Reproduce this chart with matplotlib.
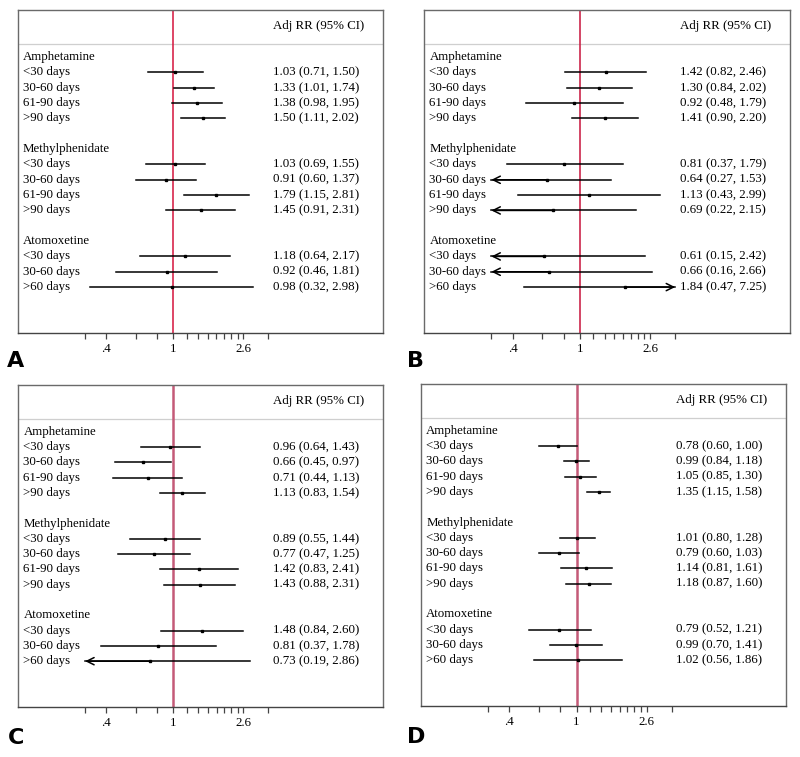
import numpy as np
import matplotlib
matplotlib.use("Agg")
from matplotlib import pyplot as plt

# rows shared by every panel
groups = ["Amphetamine", "Methylphenidate", "Atomoxetine"]
windows = [["<30 days", "30-60 days", "61-90 days", ">90 days"],
           ["<30 days", "30-60 days", "61-90 days", ">90 days"],
           ["<30 days", "30-60 days", ">60 days"]]

# adjusted RR, lower and upper CI per panel (rows in order above)
rr_a = [1.03, 1.33, 1.38, 1.50, 1.03, 0.91, 1.79, 1.45, 1.18, 0.92, 0.98]
lo_a = [0.71, 1.01, 0.98, 1.11, 0.69, 0.60, 1.15, 0.91, 0.64, 0.46, 0.32]
hi_a = [1.50, 1.74, 1.95, 2.02, 1.55, 1.37, 2.81, 2.31, 2.17, 1.81, 2.98]

rr_b = [1.42, 1.30, 0.92, 1.41, 0.81, 0.64, 1.13, 0.69, 0.61, 0.66, 1.84]
lo_b = [0.82, 0.84, 0.48, 0.90, 0.37, 0.27, 0.43, 0.22, 0.15, 0.16, 0.47]
hi_b = [2.46, 2.02, 1.79, 2.20, 1.79, 1.53, 2.99, 2.15, 2.42, 2.66, 7.25]

rr_c = [0.96, 0.66, 0.71, 1.13, 0.89, 0.77, 1.42, 1.43, 1.48, 0.81, 0.73]
lo_c = [0.64, 0.45, 0.44, 0.83, 0.55, 0.47, 0.83, 0.88, 0.84, 0.37, 0.19]
hi_c = [1.43, 0.97, 1.13, 1.54, 1.44, 1.25, 2.41, 2.31, 2.60, 1.78, 2.86]

rr_d = [0.78, 0.99, 1.05, 1.35, 1.01, 0.79, 1.14, 1.18, 0.79, 0.99, 1.02]
lo_d = [0.60, 0.84, 0.85, 1.15, 0.80, 0.60, 0.81, 0.87, 0.52, 0.70, 0.56]
hi_d = [1.00, 1.18, 1.30, 1.58, 1.28, 1.03, 1.61, 1.60, 1.21, 1.41, 1.86]

tick_vals = [0.3, 0.4, 0.6, 0.8, 1, 1.2, 1.4, 1.6, 1.8, 2.0, 2.2, 2.4, 2.6, 3.65]
tick_labels = {0.4: ".4", 1: "1", 2.6: "2.6"}
clip_lo, clip_hi = 0.3, 3.65

serif = "Liberation Serif"
fs = 9.3


def forest(ax, rr, lo, hi, refcol, reflw):
    ax.set_xscale("log")
    ax.set_xlim(0.12, 17.4)
    ax.set_ylim(18.0, -3.07)

    trans = ax.get_yaxis_transform()  # x in axes, y in data
    ax.text(0.699, -2.0, "Adj RR (95% CI)", transform=trans, fontsize=fs,
            family=serif, va="center", ha="left")
    ax.axhline(-0.85, color="#cfcfcf", lw=0.9, zorder=1)

    k = 0
    y = 0
    for g, wins in zip(groups, windows):
        ax.text(0.015, y, g, transform=trans, fontsize=fs, family=serif,
                va="center", ha="left")
        y += 1
        for w in wins:
            ax.text(0.015, y, w, transform=trans, fontsize=fs, family=serif,
                    va="center", ha="left")
            ax.text(0.699, y, f"{rr[k]:.2f} ({lo[k]:.2f}, {hi[k]:.2f})",
                    transform=trans, fontsize=fs, family=serif,
                    va="center", ha="left")
            l, h = max(lo[k], clip_lo), min(hi[k], clip_hi)
            ax.plot([l, h], [y, y], color="black", lw=1.1, zorder=3)
            # CI running off the scale gets an open arrow head
            if lo[k] < clip_lo:
                ax.annotate("", xy=(clip_lo, y), xytext=(rr[k], y),
                            arrowprops=dict(arrowstyle="->", lw=1.1, color="black",
                                            shrinkA=0, shrinkB=0, mutation_scale=13))
            if hi[k] > clip_hi:
                ax.annotate("", xy=(clip_hi, y), xytext=(rr[k], y),
                            arrowprops=dict(arrowstyle="->", lw=1.1, color="black",
                                            shrinkA=0, shrinkB=0, mutation_scale=13))
            ax.plot(rr[k], y, marker="s", ms=2.0, color="black", zorder=4)
            k += 1
            y += 1
        y += 1

    ax.axvline(1, color=refcol, lw=reflw, zorder=2)

    ax.set_yticks([])
    ax.set_xticks(tick_vals)
    ax.set_xticks([], minor=True)
    ax.set_xticklabels([tick_labels.get(t, "") for t in tick_vals],
                       fontsize=fs, family=serif)
    ax.tick_params(axis="x", length=4.5, width=0.9, color="#444444", pad=3)
    for s in ax.spines.values():
        s.set_color("#6a6a6a")
        s.set_linewidth(1.0)
    ax.spines["bottom"].set_color("#444444")


fig = plt.figure(figsize=(8, 7.57), dpi=100)

panels = [
    ("A", [0.0219, 0.560, 0.457, 0.4267], rr_a, lo_a, hi_a, "#d4143c", 1.1, (0.009, 0.510)),
    ("B", [0.530, 0.560, 0.4575, 0.4267], rr_b, lo_b, hi_b, "#c8143c", 1.1, (0.509, 0.510)),
    ("C", [0.0225, 0.066, 0.456, 0.4254], rr_c, lo_c, hi_c, "#c45a78", 1.8, (0.010, 0.012)),
    ("D", [0.526, 0.0674, 0.457, 0.4254], rr_d, lo_d, hi_d, "#c45a78", 1.8, (0.509, 0.013)),
]

for lab, rect, rr, lo, hi, col, lw, lpos in panels:
    ax = fig.add_axes(rect)
    forest(ax, rr, lo, hi, col, lw)
    fig.text(lpos[0], lpos[1], lab, fontsize=16, fontweight="bold",
             family="DejaVu Sans", ha="left", va="bottom")

fig.savefig("out.png", dpi=100)
